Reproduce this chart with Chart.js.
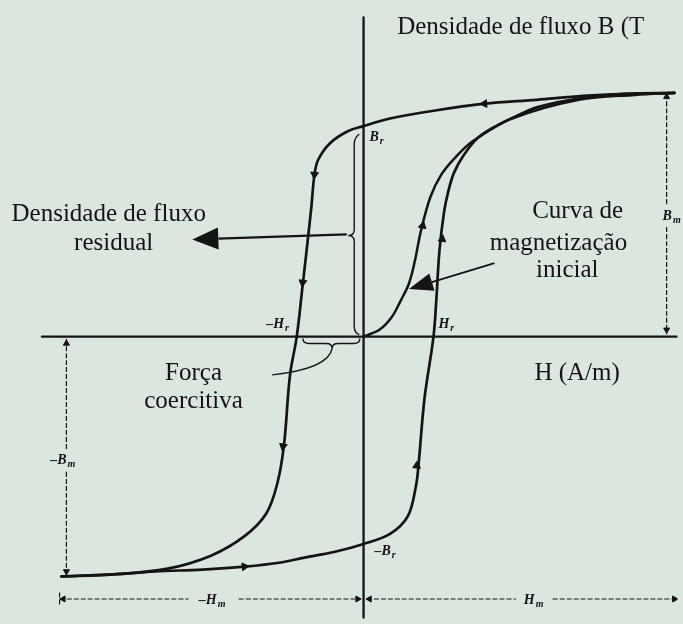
<!DOCTYPE html>
<html>
<head>
<meta charset="utf-8">
<script src="https://cdn.jsdelivr.net/npm/chart.js@4/dist/chart.umd.min.js"></script>
<style>
  html, body { margin: 0; padding: 0; background: #dae6de; }
  #wrap { width: 683px; height: 624px; }
</style>
</head>
<body>
<div id="wrap"><canvas id="loopChart" width="683" height="624"></canvas></div>
<script>
// H in A/m (Hm = 100), B in T (Bm = 1)
const hRange = [-115.2, 101];
const bRange = [-1.157, 1.359];

// descending branch: from +Bm through Br and -Hc down to -Bm
const descendingBranch = [
    [100, 1.0], [84.2, 0.996], [70.6, 0.988], [55.7, 0.972], [38.9, 0.956],
    [22.5, 0.927], [8.5, 0.895], [-0.3, 0.863], [-5.1, 0.843], [-10.8, 0.794],
    [-14.6, 0.726], [-15.8, 0.665], [-16.8, 0.532], [-18.0, 0.391], [-19.6, 0.21],
    [-21.5, 0], [-23.7, -0.161], [-25.6, -0.444], [-27.8, -0.605], [-31.3, -0.726],
    [-38.3, -0.819], [-49.1, -0.899], [-63.0, -0.952], [-80.7, -0.976], [-97.2, -0.984]
];

// ascending branch: from -Bm through -Br and Hc back to +Bm
const ascendingBranch = [
    [-97.2, -0.984], [-80.4, -0.976], [-67.1, -0.964], [-51.9, -0.956], [-38.3, -0.944],
    [-26.6, -0.927], [-19.0, -0.907], [-9.2, -0.883], [0, -0.851], [8.5, -0.81],
    [14.2, -0.738], [16.8, -0.617], [17.7, -0.524], [19.6, -0.254], [22.5, 0],
    [23.4, 0.149], [24.4, 0.351], [25.9, 0.512], [27.2, 0.593], [29.1, 0.673],
    [32.3, 0.746], [36.7, 0.815], [43.0, 0.867], [49.4, 0.907], [56.6, 0.944],
    [70.6, 0.98], [84.2, 0.996], [100, 1.0]
];

// initial magnetization curve starting at the origin
const initialCurve = [
    [0, 0], [5.1, 0.028], [8.9, 0.077], [12.0, 0.149], [14.6, 0.218],
    [16.5, 0.31], [18.4, 0.431], [21.5, 0.573], [25.0, 0.665], [29.4, 0.734],
    [35.1, 0.802], [47.8, 0.895], [69.3, 0.972], [87.3, 0.992], [100, 1.0]
];

// direction marks on the curves: [H, B, rotation]
const curveArrows = [
    [38.9, 0.956, 266], [-15.8, 0.665, 185], [-19.6, 0.222, 187], [-25.9, -0.45, 190],
    [-38.3, -0.944, 84], [17.1, -0.53, 3], [25.3, 0.40, 7], [19.0, 0.455, 12]
];

// Bm, -Bm and Hm dimension lines
const dimensionSegments = [
    [[97.5, 0.995], [97.5, 0.535]], [[97.5, 0.45], [97.5, 0.01]],
    [[-95.6, -0.01], [-95.6, -0.465]], [[-95.6, -0.555], [-95.6, -0.98]],
    [[-97.8, -1.077], [-56.3, -1.077]], [[-40.2, -1.077], [-1, -1.077]],
    [[1, -1.077], [49, -1.077]], [[60.8, -1.077], [100.9, -1.077]],
    [[-97.8, -1.05], [-97.8, -1.104]]
];
const dimensionArrows = [
    [97.5, 0.984, 0], [97.5, 0.028, 180], [-95.6, -0.028, 0], [-95.6, -0.964, 180],
    [-96.6, -1.077, 270], [-1.9, -1.077, 90], [1.9, -1.077, 270], [100, -1.077, 90]
];

const ink = '#141414';
const toPoints = arr => arr.map(p => ({ x: p[0], y: p[1] }));

function curve(data, width) {
    return {
        data: toPoints(data),
        showLine: true,
        borderColor: ink,
        borderWidth: width,
        pointRadius: 0,
        tension: 0.35,
        borderCapStyle: 'round',
        borderJoinStyle: 'round'
    };
}

const datasets = [
    curve([[-103.5, 0], [101, 0]], 2.3),
    curve([[0, 1.31], [0, -1.157]], 2.3),
    curve(descendingBranch, 2.7),
    curve(ascendingBranch, 2.7),
    curve(initialCurve, 2.5)
];
dimensionSegments.forEach(seg => {
    const ds = curve(seg, 1.2);
    ds.borderDash = [5, 2];
    ds.borderCapStyle = 'butt';
    datasets.push(ds);
});
datasets.push({
    data: toPoints(curveArrows),
    showLine: false,
    pointStyle: 'triangle',
    pointRadius: 4.5,
    pointRotation: curveArrows.map(a => a[2]),
    backgroundColor: ink,
    borderColor: ink,
    borderWidth: 1
});
datasets.push({
    data: toPoints(dimensionArrows),
    showLine: false,
    pointStyle: 'triangle',
    pointRadius: 3.5,
    pointRotation: dimensionArrows.map(a => a[2]),
    backgroundColor: ink,
    borderColor: ink,
    borderWidth: 1
});

// text placed in H/B units
const plainLabels = [
    { text: 'Densidade de fluxo B (T', h: 10.8, b: 1.27, align: 'left' },
    { text: 'Densidade de fluxo', h: -82.0, b: 0.5, align: 'center' },
    { text: 'residual', h: -80.4, b: 0.383, align: 'center' },
    { text: 'Curva de', h: 83.5, b: 0.512, align: 'right' },
    { text: 'magnetização', h: 84.8, b: 0.383, align: 'right' },
    { text: 'inicial', h: 75.6, b: 0.27, align: 'right' },
    { text: 'Força', h: -54.7, b: -0.153, align: 'center' },
    { text: 'coercitiva', h: -54.7, b: -0.266, align: 'center' },
    { text: 'H (A/m)', h: 68.7, b: -0.153, align: 'center' }
];
const symbolLabels = [
    { main: 'B', sub: 'r', h: 1.9, b: 0.819, align: 'left' },
    { main: '–H', sub: 'r', h: -24.0, b: 0.052, align: 'right' },
    { main: 'H', sub: 'r', h: 24.1, b: 0.052, align: 'left' },
    { main: '–B', sub: 'r', h: 3.5, b: -0.883, align: 'left' },
    { main: '–B', sub: 'm', h: -96.8, b: -0.508, align: 'center' },
    { main: 'B', sub: 'm', h: 96.2, b: 0.492, align: 'left' },
    { main: '–H', sub: 'm', h: -48.7, b: -1.081, align: 'center' },
    { main: 'H', sub: 'm', h: 54.7, b: -1.081, align: 'center' }
];

function drawArrow(ctx, x1, y1, x2, y2, len, half) {
    const ang = Math.atan2(y2 - y1, x2 - x1);
    const bx = x2 - len * Math.cos(ang), by = y2 - len * Math.sin(ang);
    ctx.beginPath();
    ctx.moveTo(x1, y1);
    ctx.lineTo(bx, by);
    ctx.stroke();
    ctx.beginPath();
    ctx.moveTo(x2, y2);
    ctx.lineTo(bx + half * Math.sin(ang), by - half * Math.cos(ang));
    ctx.lineTo(bx - half * Math.sin(ang), by + half * Math.cos(ang));
    ctx.closePath();
    ctx.fill();
}

const annotations = {
    id: 'annotations',
    afterDatasetsDraw(chart) {
        const { ctx, scales: { x, y } } = chart;
        const px = h => x.getPixelForValue(h);
        const py = b => y.getPixelForValue(b);
        ctx.save();
        ctx.strokeStyle = ink;
        ctx.fillStyle = ink;

        // brace along Br (residual flux)
        let bx = px(-3.0), t = py(0.815), m = py(0.415), e = py(0.016);
        ctx.lineWidth = 1.4;
        ctx.beginPath();
        ctx.moveTo(bx + 5, t - 4);
        ctx.quadraticCurveTo(bx, t, bx, t + 6);
        ctx.lineTo(bx, m - 6);
        ctx.quadraticCurveTo(bx, m, bx - 6, m);
        ctx.quadraticCurveTo(bx, m, bx, m + 6);
        ctx.lineTo(bx, e - 6);
        ctx.quadraticCurveTo(bx, e, bx + 5, e + 2);
        ctx.stroke();

        // brace along -Hc (coercive force) and its leader
        let l = px(-19.5), r = px(-1.2), c = px(-10.1), by = py(-0.028);
        ctx.beginPath();
        ctx.moveTo(l, by - 5);
        ctx.quadraticCurveTo(l, by, l + 6, by);
        ctx.lineTo(c - 6, by);
        ctx.quadraticCurveTo(c, by, c, by + 5);
        ctx.quadraticCurveTo(c, by, c + 6, by);
        ctx.lineTo(r - 6, by);
        ctx.quadraticCurveTo(r, by, r, by - 5);
        ctx.stroke();
        ctx.beginPath();
        ctx.moveTo(c, by + 5);
        ctx.bezierCurveTo(px(-10.8), py(-0.1), px(-17), py(-0.14), px(-29.4), py(-0.157));
        ctx.stroke();

        // pointer arrows
        ctx.lineWidth = 2.2;
        drawArrow(ctx, px(-5.4), py(0.42), px(-55.1), py(0.399), 26, 11);
        ctx.lineWidth = 1.8;
        drawArrow(ctx, px(42.1), py(0.302), px(14.6), py(0.195), 24, 9);

        ctx.textBaseline = 'middle';
        ctx.font = '25px "Liberation Serif"';
        plainLabels.forEach(lb => {
            ctx.textAlign = lb.align;
            ctx.fillText(lb.text, px(lb.h), py(lb.b));
        });

        symbolLabels.forEach(lb => {
            ctx.font = 'bold italic 14px "Liberation Serif"';
            const mw = ctx.measureText(lb.main).width;
            ctx.font = 'bold italic 10px "Liberation Serif"';
            const sw = ctx.measureText(lb.sub).width;
            const total = mw + sw + 1;
            let x0 = px(lb.h);
            if (lb.align === 'center') x0 -= total / 2;
            if (lb.align === 'right') x0 -= total;
            const y0 = py(lb.b);
            ctx.textAlign = 'left';
            ctx.font = 'bold italic 14px "Liberation Serif"';
            ctx.fillText(lb.main, x0, y0);
            ctx.font = 'bold italic 10px "Liberation Serif"';
            ctx.fillText(lb.sub, x0 + mw + 1, y0 + 4);
        });
        ctx.restore();
    }
};

new Chart(document.getElementById('loopChart'), {
    type: 'scatter',
    data: { datasets: datasets },
    options: {
        responsive: false,
        animation: false,
        devicePixelRatio: 1,
        layout: { padding: 0 },
        plugins: { legend: { display: false }, tooltip: { enabled: false } },
        scales: {
            x: { type: 'linear', min: hRange[0], max: hRange[1], display: false },
            y: { type: 'linear', min: bRange[0], max: bRange[1], display: false }
        }
    },
    plugins: [annotations]
});
</script>
</body>
</html>
